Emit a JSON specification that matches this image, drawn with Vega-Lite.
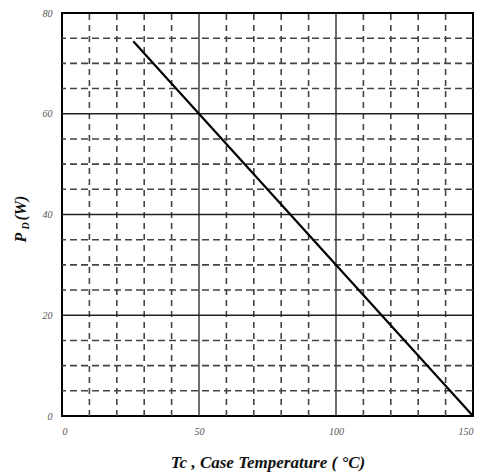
{
  "$schema": "https://vega.github.io/schema/vega-lite/v6.json",
  "width": 411,
  "height": 403,
  "autosize": "none",
  "padding": {"left": 62, "top": 13, "right": 12, "bottom": 57},
  "background": "white",
  "config": {
    "view": {"stroke": "#000", "strokeWidth": 2},
    "axis": {
      "labelFont": "Liberation Serif",
      "labelFontStyle": "italic",
      "labelColor": "#555",
      "labelFontSize": 10,
      "titleFont": "Liberation Serif",
      "titleFontStyle": "italic",
      "titleFontWeight": "bold",
      "titleColor": "#111",
      "grid": false,
      "ticks": false,
      "domain": false
    }
  },
  "datasets": {
    "vgrid": [
      {"Tc": 10}, {"Tc": 20}, {"Tc": 30}, {"Tc": 40}, {"Tc": 50},
      {"Tc": 60}, {"Tc": 70}, {"Tc": 80}, {"Tc": 90}, {"Tc": 100},
      {"Tc": 110}, {"Tc": 120}, {"Tc": 130}, {"Tc": 140}
    ],
    "hgrid": [
      {"PD": 5}, {"PD": 10}, {"PD": 15}, {"PD": 20}, {"PD": 25},
      {"PD": 30}, {"PD": 35}, {"PD": 40}, {"PD": 45}, {"PD": 50},
      {"PD": 55}, {"PD": 60}, {"PD": 65}, {"PD": 70}, {"PD": 75}
    ],
    "derating": [
      {"Tc": 26, "PD": 74.4},
      {"Tc": 150, "PD": 0}
    ]
  },
  "layer": [
    {
      "data": {"name": "vgrid"},
      "mark": {"type": "rule"},
      "encoding": {
        "x": {
          "field": "Tc", "type": "quantitative",
          "scale": {"domain": [0, 150], "nice": false},
          "axis": {
            "values": [0, 50, 100, 150], "labelPadding": 10,
            "title": "Tc , Case Temperature (  °C)", "titleFontSize": 17,
            "titleY": 51, "titleBaseline": "alphabetic"
          }
        },
        "y": {
          "datum": 0, "type": "quantitative",
          "scale": {"domain": [0, 80], "nice": false},
          "axis": {
            "orient": "left", "labels": false, "title": "(W)", "titleFontSize": 16,
            "titleAngle": 270, "titleAlign": "left", "titleBaseline": "alphabetic",
            "titleX": -37, "titleY": 207
          }
        },
        "y2": {"datum": 80},
        "strokeDash": {
          "condition": {"test": "datum.Tc % 50 === 0", "value": [1, 0]},
          "value": [6, 5]
        },
        "strokeWidth": {
          "condition": {"test": "datum.Tc % 50 === 0", "value": 1.3},
          "value": 1.6
        },
        "color": {
          "condition": {"test": "datum.Tc % 50 === 0", "value": "#222"},
          "value": "#444"
        }
      }
    },
    {
      "data": {"name": "hgrid"},
      "mark": {"type": "rule"},
      "encoding": {
        "y": {
          "field": "PD", "type": "quantitative",
          "scale": {"domain": [0, 80], "nice": false},
          "axis": {
            "orient": "left", "values": [0, 20, 40, 60, 80], "labelPadding": 10,
            "title": "P", "titleFontSize": 16,
            "titleAngle": 270, "titleAlign": "left", "titleBaseline": "alphabetic",
            "titleX": -37, "titleY": 229
          }
        },
        "strokeDash": {
          "condition": {"test": "datum.PD % 20 === 0", "value": [1, 0]},
          "value": [7, 4]
        },
        "strokeWidth": {
          "condition": {"test": "datum.PD % 20 === 0", "value": 1.3},
          "value": 1.6
        },
        "color": {
          "condition": {"test": "datum.PD % 20 === 0", "value": "#222"},
          "value": "#444"
        }
      }
    },
    {
      "data": {"name": "derating"},
      "mark": {"type": "line", "color": "#000", "strokeWidth": 2.2},
      "encoding": {
        "x": {
          "field": "Tc", "type": "quantitative",
          "scale": {"domain": [0, 150], "nice": false},
          "axis": {
            "values": [0, 50, 100, 150], "labelPadding": 10,
            "title": "Tc , Case Temperature (  °C)", "titleFontSize": 17,
            "titleY": 51, "titleBaseline": "alphabetic"
          }
        },
        "y": {
          "field": "PD", "type": "quantitative",
          "scale": {"domain": [0, 80], "nice": false},
          "axis": {
            "orient": "left", "labels": false, "title": "D", "titleFontSize": 10,
            "titleAngle": 270, "titleAlign": "left", "titleBaseline": "alphabetic",
            "titleX": -34, "titleY": 216
          }
        }
      }
    }
  ],
  "resolve": {"scale": {"y": "independent"}, "axis": {"y": "independent"}}
}
